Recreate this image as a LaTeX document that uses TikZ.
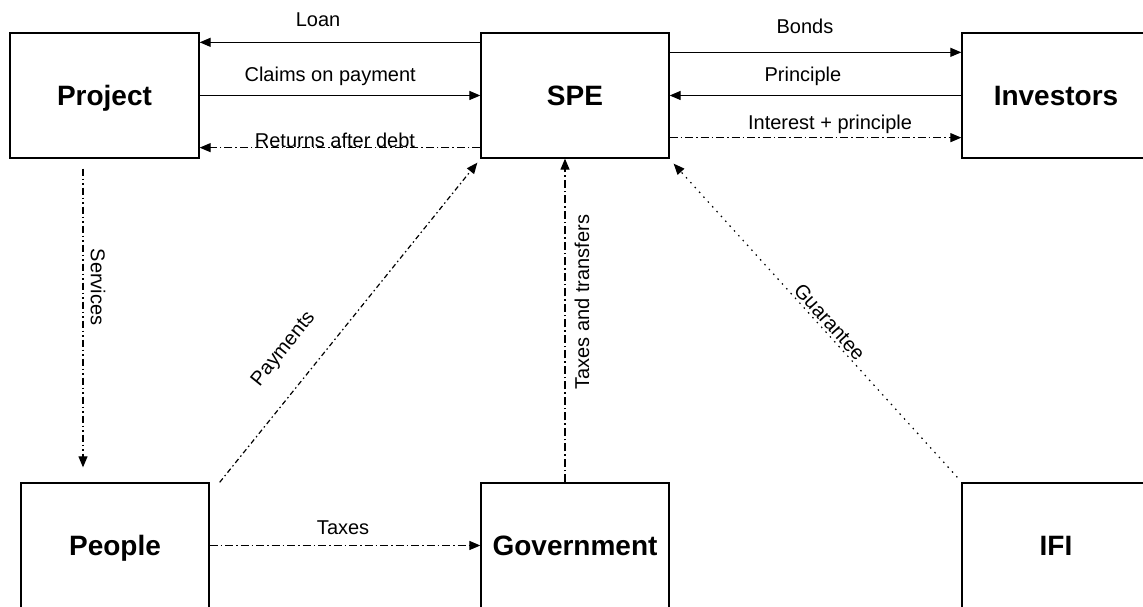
\documentclass[tikz,border=0pt]{standalone}
\usepackage{fontspec}
\setmainfont{Liberation Sans}
\usetikzlibrary{arrows.meta}
\begin{document}
\begin{tikzpicture}[x=1pt,y=1pt,
  box/.style={draw, line width=1.3pt, minimum width=188pt, minimum height=125pt, text height=20pt, text depth=0pt, font=\fontsize{28}{30}\selectfont\bfseries},
  lbl/.style={inner sep=0pt, font=\fontsize{20}{22}\selectfont},
  flow/.style={line width=1.2pt, -{Triangle[length=11pt,width=9pt]}},
  dashdot/.style={dash pattern=on 8pt off 3pt on 1.5pt off 3pt},
  dashdotdot/.style={dash pattern=on 7pt off 3pt on 1.5pt off 3pt on 1.5pt off 3pt},
  shortdash/.style={dash pattern=on 5pt off 3pt on 1.5pt off 3pt},
  dots/.style={dash pattern=on 1.5pt off 5pt}]
\clip (0,0) rectangle (1143,607);
\node[box, minimum width=189pt] (proj) at (104.5,511.5) {Project};
\node[box] (spe) at (575,511.5) {SPE};
\node[box] (inv) at (1056,511.5) {Investors};
\node[box] (ppl) at (115,61.5) {People};
\node[box] (gov) at (575,61.5) {Government};
\node[box] (ifi) at (1056,61.5) {IFI};
\path[draw,flow] ([yshift=-10pt]spe.north west) -- node[lbl,pos=0.578,yshift=23pt] {Loan} ([yshift=-10pt]proj.north east);
\path[draw,flow] (proj) -- node[lbl,pos=0.465,yshift=19pt] {Claims on payment} (spe);
\path[draw,flow,dashdot] ([yshift=11pt]spe.south west) -- node[lbl,pos=0.518,yshift=7pt] {Returns after debt} ([yshift=11pt]proj.south east);
\path[draw,flow] ([yshift=-20pt]spe.north east) -- node[lbl,pos=0.464,yshift=26pt] {Bonds} ([yshift=-20pt]inv.north west);
\path[draw,flow] (inv) -- node[lbl,pos=0.543,yshift=19pt] {Principle} (spe);
\path[draw,flow,dashdot] ([yshift=21pt]spe.south east) -- node[lbl,pos=0.55,yshift=13pt] {Interest + principle} ([yshift=21pt]inv.south west);
\path[draw,flow,dashdotdot,shorten <=10pt,shorten >=15pt] ([xshift=-21.5pt]proj.south) -- node[lbl,pos=0.397,xshift=15pt,rotate=-90] {Services} ([xshift=-21.5pt]proj.south |- ppl.north);
\path[draw,flow,shortdash] ([xshift=10pt]ppl.north east) -- node[lbl,pos=0.35,sloped,above=24pt] {Payments} ([xshift=-3pt,yshift=-4pt]spe.south west);
\path[draw,flow,dashdot] ([xshift=-10pt]gov.north) -- node[lbl,pos=0.557,xshift=17pt,rotate=90] {Taxes and transfers} ([xshift=-10pt]spe.south);
\path[draw,flow,dots] ([xshift=-4pt,yshift=5pt]ifi.north west) -- node[lbl,pos=0.475,sloped,above=2pt] {Guarantee} ([xshift=4pt,yshift=-5pt]spe.south east);
\path[draw,flow,dashdot] (ppl) -- node[lbl,pos=0.493,yshift=18pt] {Taxes} (gov);
\end{tikzpicture}
\end{document}
